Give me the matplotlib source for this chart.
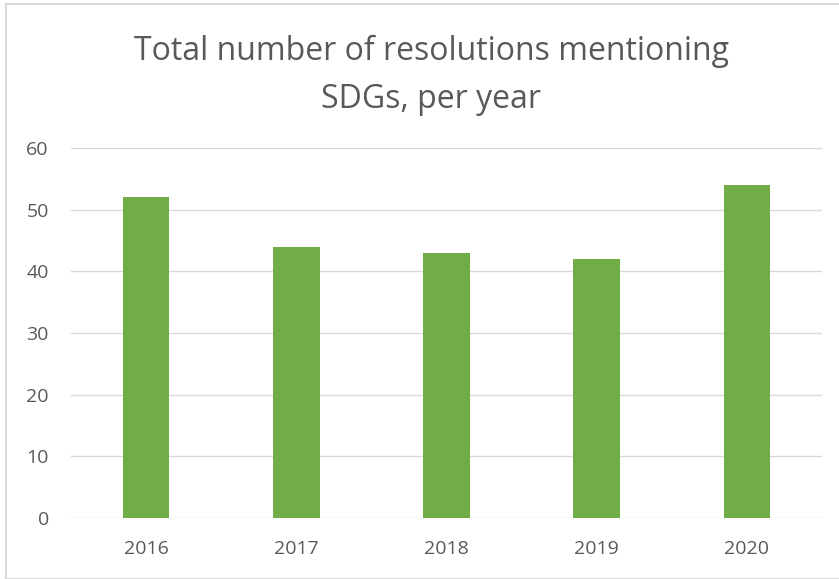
import matplotlib
matplotlib.use("Agg")
import matplotlib.pyplot as plt
from matplotlib.patches import Rectangle

years = ["2016", "2017", "2018", "2019", "2020"]
counts = [52, 44, 43, 42, 54]
yticks = [0, 10, 20, 30, 40, 50, 60]

W, H = 839, 579
fig = plt.figure(figsize=(W / 100, H / 100), dpi=100)
plt.rcParams['font.family'] = ['Open Sans', 'DejaVu Sans']

# chart border
fig.patches.append(Rectangle((6 / W, 0), 1, 1 - 4 / H, transform=fig.transFigure,
                             fill=False, edgecolor="#D9D9D9", linewidth=1.5))

ax = fig.add_axes([71 / W, 1 - 518 / H, (822 - 71) / W, (518 - 148) / H])
x = range(len(years))
ax.bar(x, counts, width=0.31, color="#70AD47", zorder=3)
ax.set_ylim(0, 60)
ax.set_xlim(-0.5, len(years) - 0.5)
ax.set_yticks(yticks)
ax.set_xticks(list(x))
ax.set_xticklabels(years)
ax.grid(axis="y", color="#D9D9D9", linewidth=1, zorder=0)
for s in ax.spines.values():
    s.set_visible(False)
ax.tick_params(axis="both", length=0, labelsize=14, colors="#595959")
ax.tick_params(axis="x", pad=16)
ax.tick_params(axis="y", pad=16)

fig.text(431 / W, 1 - 75 / H, "Total number of resolutions mentioning\nSDGs, per year",
         ha="center", va="center", fontsize=23, color="#595959", linespacing=1.6)

fig.savefig("out.png", dpi=100)
